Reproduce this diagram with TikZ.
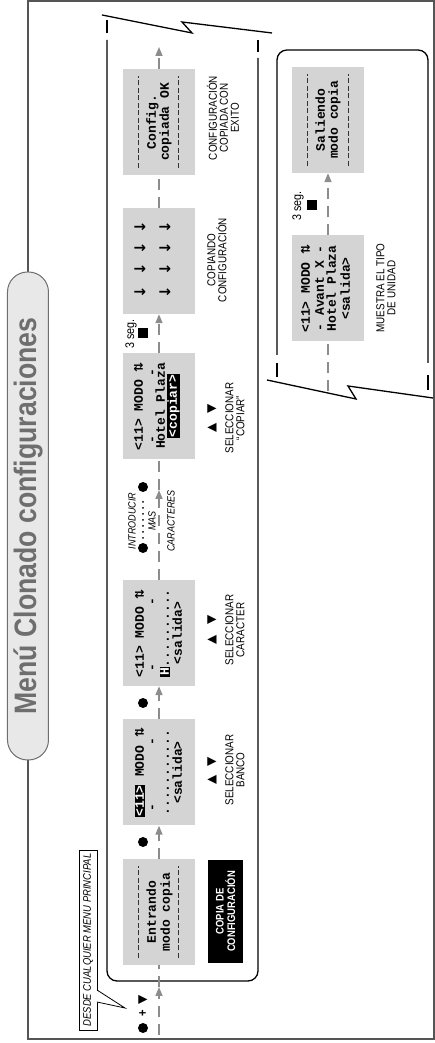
\documentclass[tikz,border=0pt]{standalone}
\usepackage{fontspec}
\setmainfont{Liberation Sans}
\newfontfamily\labf[FakeStretch=0.86]{Liberation Sans}
\newfontfamily\lcdf{Liberation Mono}
\newfontfamily\symf{DejaVu Sans}
\usetikzlibrary{arrows.meta}
\definecolor{boxgray}{RGB}{212,212,212}
\definecolor{flowgray}{RGB}{140,140,140}
\definecolor{framegray}{RGB}{85,85,85}
\definecolor{titlegray}{RGB}{110,110,110}
\definecolor{lozfill}{RGB}{232,232,232}
\newcommand\hlt[1]{{\setlength{\fboxsep}{0.7pt}\colorbox{black}{\textcolor{white}{#1}}}}
\tikzset{
  lcdbox/.style={fill=boxgray, minimum width=106pt, minimum height=72pt, inner sep=0pt},
  lcd/.style={font=\lcdf\bfseries\fontsize{13}{13}\selectfont, inner sep=0pt, anchor=base},
  lbl/.style={font=\labf\fontsize{11.5}{11}\selectfont, align=center, inner sep=0pt},
  ilbl/.style={font=\labf\itshape\fontsize{10.5}{10}\selectfont, inner sep=0pt},
  flow/.style={draw=flowgray, line width=1.5pt, dash pattern=on 11pt off 7pt},
  tip/.style={-{Triangle[length=9pt,width=7pt]}},
  panel/.style={draw=black, line width=1.3pt},
  rulel/.style={draw=black!80, line width=1pt, dash pattern=on 5pt off 2.5pt},
  dotn/.style={circle, fill=black, minimum size=10pt, inner sep=0pt},
  sqn/.style={fill=black, minimum size=10pt, inner sep=0pt},
  tri/.style={font=\symf\fontsize{12}{12}\selectfont, inner sep=0pt},
  arr/.style={font=\symf\bfseries\fontsize{15}{15}\selectfont, inner sep=0pt},
  dotline/.style={line width=2pt, line cap=round, dash pattern=on 0pt off 6pt, shorten <=5pt, shorten >=5pt}
}
\begin{document}
\begin{tikzpicture}[x=1pt,y=1pt]
\begin{scope}[rotate=90, transform shape]
\useasboundingbox (0,0) rectangle (1043,435);
% outer frame
\draw[framegray, line width=1.2pt] (4,1) rectangle (1042,407);
\node[draw=titlegray, line width=1pt, fill=lozfill, rounded corners=20pt, minimum width=488pt, minimum height=41pt, text=titlegray, font=\labf\bfseries\fontsize{31}{31}\selectfont] (title) at (527,407) {Menú Clonado configuraciones};

% main panel
\draw[panel, rounded corners=10pt] (1003,328) -- (62,328) -- (62,177) -- (985,177);
\draw[panel] (1010,328) -- (1023,328);
\draw[panel] (991,177) -- (1003,177);
\draw[panel] (1028,333) -- (1010,243) -- (1021,253) -- (1010,163);

% second panel
\draw[panel, rounded corners=10pt] (688,158) -- (993,158) -- (993,7) -- (680,7);
\draw[panel] (666,158) -- (680,158);
\draw[panel] (653,7) -- (668,7);
\draw[panel] (663,168) -- (644,79) -- (657,87) -- (645,2);

% callout
\node[draw=black, line width=0.8pt, minimum width=180pt, minimum height=18pt, inner sep=0pt, font=\labf\itshape\fontsize{11}{11}\selectfont] (desde) at (103,347) {DESDE CUALQUIER MENU PRINCIPAL};
\fill[white] (35,310) -- (41,338.9) -- (53,338.9) -- cycle;
\draw[line width=0.8pt] (41,338) -- (35,310) -- (53,338);

% LCD boxes
\node[lcdbox] (b1) at (131,276) {};
\node[lcdbox] (b2) at (270.5,276) {};
\node[lcdbox] (b3) at (410,276) {};
\node[lcdbox] (b4) at (637,276) {};
\node[lcdbox] (b5) at (782,276) {};
\node[lcdbox] (b6) at (921,276) {};
\node[lcdbox] (b7) at (754.5,107) {};
\node[lcdbox] (b8) at (923,107) {};

% box 1
\draw[rulel] (85,296) -- (177,296);
\draw[rulel] (85,256) -- (177,256);
\node[lcd] (t1a) at (131,279) {Entrando};
\node[lcd] (t1b) at (131,265) {modo copia};
% box 2
\node[lcd] (t2a) at (270.5,291) {\hlt{<11>} MODO {\symf\fontsize{12}{12}\selectfont ⇅}};
\node[lcd] (t2b) at (235,279) {-};
\node[lcd] (t2c) at (301,279) {-};
\node[lcd] (t2d) at (270.5,266) {...........};
\node[lcd] (t2e) at (270.5,253) {<salida>};
% box 3
\node[lcd] (t3a) at (410,291) {<11> MODO {\symf\fontsize{12}{12}\selectfont ⇅}};
\node[lcd] (t3b) at (375,279) {-};
\node[lcd] (t3c) at (441,279) {-};
\node[lcd] (t3d) at (410,266) {\hlt{H}..........};
\node[lcd] (t3e) at (410,253) {<salida>};
% box 4
\node[lcd] (t4a) at (637,292) {<11> MODO {\symf\fontsize{12}{12}\selectfont ⇅}};
\node[lcd] (t4b) at (603,279) {-};
\node[lcd] (t4c) at (670,279) {-};
\node[lcd] (t4d) at (637,270) {Hotel Plaza};
\node[lcd] (t4e) at (637,258) {\hlt{<copiar>}};
% box 5
\foreach \xx/\nn in {751/a,774/b,795/c,816/d}{
  \node[arr] (u\nn) at (\xx,295) {↓};
  \node[arr] (l\nn) at (\xx,270) {↓};
}
% box 6
\draw[rulel] (875,296) -- (967,296);
\draw[rulel] (875,256) -- (967,256);
\node[lcd] (t6a) at (921,279) {Config.};
\node[lcd] (t6b) at (921,266) {copiada OK};
% box 7
\node[lcd] (t7a) at (754.5,125) {<11> MODO {\symf\fontsize{12}{12}\selectfont ⇅}};
\node[lcd] (t7b) at (754.5,111) {- Avant X -};
\node[lcd] (t7c) at (754.5,99) {Hotel Plaza};
\node[lcd] (t7d) at (754.5,85) {<salida>};
% box 8
\draw[rulel] (877,127) -- (969,127);
\draw[rulel] (877,87) -- (969,87);
\node[lcd] (t8a) at (923,110) {Saliendo};
\node[lcd] (t8b) at (923,97) {modo copia};

% start markers
\node[dotn] (k0) at (15,292) {};
\node[font=\labf\bfseries\fontsize{13}{13}\selectfont, inner sep=0pt] (plus0) at (30,292) {+};
\node[tri] (tr0) at (43,292) {▼};

% flow connectors
\coordinate (s0) at (8,276);
\coordinate (a0) at (56,276);
\draw[flow, tip] (s0) -- (a0);
\draw[flow] (a0) -- (b1);
\draw[flow, tip] (b1) -- (b2);
\draw[flow, tip] (b2) -- (b3);
\coordinate (m34) at (553,276);
\draw[flow, tip] (b3) -- (m34);
\draw[flow] (m34) -- (b4);
\draw[flow, tip] (b4) -- (b5);
\draw[flow] (b5) -- (b6);
\coordinate (e1) at (996,276);
\draw[flow, tip] (b6) -- (e1);
\coordinate (s2) at (652,107);
\draw[flow] (s2) -- (b7);
\draw[flow, tip] (b7) -- (b8);

% key dots
\node[dotn] (c1) at (201,292) {};
\node[dotn] (c2) at (340,292) {};
\node[dotn] (c3) at (495,292) {};
\node[dotn] (c4) at (556,292) {};
\draw[dotline] (c3) -- (c4);
\node[ilbl] (intro) at (522,303) {INTRODUCIR};
\node[ilbl] (mas) at (522,283) {MAS};
\node[ilbl] (carac) at (522,264) {CARACTERES};

\node[lbl, font=\labf\fontsize{12.5}{12}\selectfont] (seg1) at (709,304) {3 seg.};
\node[sqn] (q1) at (709.5,292) {};
\node[lbl, font=\labf\fontsize{12.5}{12}\selectfont] (seg2) at (837,137) {3 seg.};
\node[sqn] (q2) at (837.5,123) {};

% labels under boxes
\node[fill=black, text=white, minimum width=103pt, minimum height=35pt, inner sep=0pt, align=center, font=\labf\bfseries\fontsize{11}{11.5}\selectfont] (copia) at (131.5,209.5) {COPIA DE\\CONFIGURACIÓN};
\node[tri] (tr2a) at (263,223) {▲};
\node[tri] (tr2b) at (281,223) {▼};
\node[lbl] (l2) at (273,200) {SELECCIONAR\\BANCO};
\node[tri] (tr3a) at (403,223) {▲};
\node[tri] (tr3b) at (423,223) {▼};
\node[lbl] (l3) at (413,200) {SELECCIONAR\\CARACTER};
\node[tri] (tr4a) at (615,223) {▲};
\node[tri] (tr4b) at (634,223) {▼};
\node[lbl] (l4) at (625,200) {SELECCIONAR\\“COPIAR”};
\node[lbl] (l5) at (783,218) {COPIANDO\\CONFIGURACIÓN};
\node[lbl] (l6) at (925,212) {CONFIGURACIÓN\\COPIADA CON\\EXITO};
\node[lbl] (l7) at (755,49) {MUESTRA EL TIPO\\DE UNIDAD};
\end{scope}
\end{tikzpicture}
\end{document}
